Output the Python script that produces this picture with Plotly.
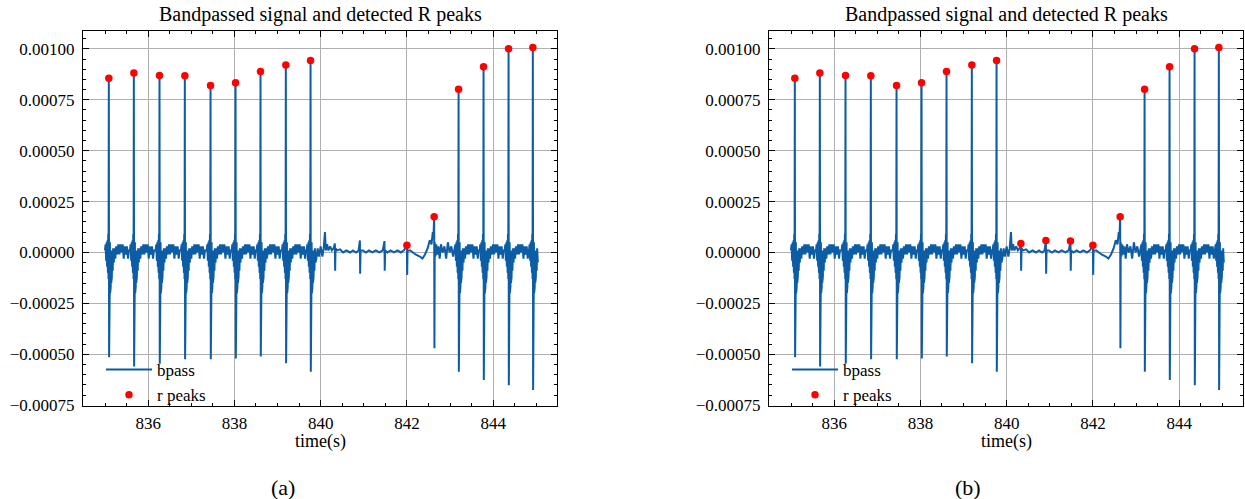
import plotly.graph_objects as go

# ---------------- data ----------------
# normal heart beats: R-peak time (s), R amplitude, S (trough) amplitude
beat_times = [835.089, 835.669, 836.264, 836.851, 837.447, 838.027, 838.606, 839.193, 839.766,
              843.198, 843.777, 844.357, 844.920]
beat_r = [0.000855, 0.000881, 0.000869, 0.000868, 0.000820, 0.000833, 0.000889, 0.000920, 0.000943,
          0.000802, 0.000912, 0.001000, 0.001007]
beat_s = [-0.000514, -0.000560, -0.000547, -0.000524, -0.000524, -0.000521, -0.000511, -0.000544, -0.000586,
          -0.000586, -0.000626, -0.000652, -0.000675]
s_offset = 0.006

# QRS ripple around every normal beat (offset from R peak, value)
blob_dt = [-0.090, -0.075, -0.062, -0.050, -0.040, -0.030, -0.022, -0.014, -0.007,
           0.013, 0.019, 0.025, 0.031, 0.037, 0.043, 0.049, 0.055, 0.062, 0.070, 0.080, 0.090, 0.100, 0.115]
blob_v = [0.00001, 0.00004, -0.00004, 0.00005, -0.00007, 0.00006, -0.00010, 0.00009, -0.00013,
          0.00007, -0.00022, 0.00005, -0.00020, 0.00003, -0.00017, 0.00001, -0.00015, -0.00001, -0.00012,
          0.00001, -0.00009, 0.00002, -0.00005]

# baseline wave between two regular beats (offset from R peak, value)
base_dt = [0.130, 0.150, 0.170, 0.195, 0.220, 0.245, 0.270, 0.295, 0.320, 0.345, 0.370, 0.395, 0.420, 0.445, 0.465]
base_v = [0.00002, -0.00003, 0.00003, -0.00001, 0.00004, -0.00001, 0.00004, 0.00000, 0.00004, -0.00003,
          0.00003, -0.00001, 0.00003, -0.00003, 0.00001]

# quiet stretch (840 s - 843 s)
pause_t = [839.90, 839.93, 839.96, 840.00, 840.04, 840.07, 840.10, 840.12, 840.15, 840.18, 840.22, 840.26,
           840.30, 840.330, 840.336, 840.345, 840.38, 840.45, 840.52, 840.60, 840.68, 840.75, 840.82, 840.88,
           840.910, 840.916, 840.925, 840.98, 841.05, 841.12, 841.20, 841.28, 841.36, 841.44,
           841.480, 841.486, 841.495, 841.55, 841.62, 841.70, 841.78, 841.86, 841.93,
           842.000, 842.006, 842.015, 842.08, 842.20, 842.30, 842.36, 842.42, 842.48, 842.53, 842.57,
           842.60, 842.615, 842.632, 842.638, 842.645, 842.66, 842.68, 842.70, 842.73, 842.76, 842.79,
           842.83, 842.87, 842.91, 842.95, 842.99, 843.03, 843.07, 843.10]
pause_v = [-0.00003, 0.00002, -0.00002, 0.00003, -0.00002, 0.00002, 0.00010, 0.00001, 0.00004, 0.00001,
           0.00003, 0.00001, 0.00002, 0.000044, -0.00009, 0.00002, 0.00001, 0.000015, 0.0, 0.00001, 0.0,
           0.00001, 0.0, 0.00001, 0.000059, -0.000105, 0.00001, 0.00001, 0.0, 0.00001, 0.0, 0.00001, 0.0,
           0.00001, 0.000056, -0.00009, 0.00001, 0.0, 0.00001, 0.0, 0.00001, 0.0, 0.00001,
           0.000035, -0.00011, 0.00001, 0.00001, -0.00001, -0.00002, -0.00003, -0.00001, 0.00002, 0.00006,
           0.00004, 0.00010, 0.00007, 0.000175, -0.00047, 0.00005, -0.00002, 0.00004, -0.00001, 0.00003,
           -0.00003, 0.00004, 0.0, 0.00003, -0.00003, 0.00005, 0.0, 0.00003, -0.00002, 0.00002]

# detected R peaks
peaks_a_t = [835.089, 835.669, 836.264, 836.851, 837.447, 838.027, 838.606, 839.193, 839.766,
             842.000, 842.632, 843.198, 843.777, 844.357, 844.920]
peaks_a_v = [0.000855, 0.000881, 0.000869, 0.000868, 0.000820, 0.000833, 0.000889, 0.000920, 0.000943,
             0.000035, 0.000175, 0.000802, 0.000912, 0.001000, 0.001007]
peaks_b_t = [835.089, 835.669, 836.264, 836.851, 837.447, 838.027, 838.606, 839.193, 839.766,
             840.330, 840.910, 841.480, 842.000, 842.632, 843.198, 843.777, 844.357, 844.920]
peaks_b_v = [0.000855, 0.000881, 0.000869, 0.000868, 0.000820, 0.000833, 0.000889, 0.000920, 0.000943,
             0.000044, 0.000059, 0.000056, 0.000035, 0.000175, 0.000802, 0.000912, 0.001000, 0.001007]

x_ticks = [836, 838, 840, 842, 844]
y_tick_vals = [-0.00075, -0.0005, -0.00025, 0.0, 0.00025, 0.0005, 0.00075, 0.001]
y_tick_text = ["\u22120.00075", "\u22120.00050", "\u22120.00025", "0.00000", "0.00025", "0.00050",
               "0.00075", "0.00100"]
title_text = "Bandpassed signal and detected R peaks"

# ---------------- assemble the bandpassed trace ----------------
pts = []
for i, (tr, ra, sa) in enumerate(zip(beat_times, beat_r, beat_s)):
    for dt, v in zip(blob_dt, blob_v):
        pts.append((tr + dt, v))
    pts.append((tr, ra))
    pts.append((tr + s_offset, sa))
    if i + 1 < len(beat_times) and beat_times[i + 1] - tr < 0.7:
        for dt, v in zip(base_dt, base_v):
            pts.append((tr + dt, v))
pts += list(zip(pause_t, pause_v))
pts.sort()
sig_t = [p[0] for p in pts]
sig_v = [p[1] for p in pts]

BLUE = "#0C5DA5"
FONT = "Liberation Serif"

fig = go.Figure()
for k, (pt, pv) in enumerate([(peaks_a_t, peaks_a_v), (peaks_b_t, peaks_b_v)]):
    xa = "x" if k == 0 else "x2"
    ya = "y" if k == 0 else "y2"
    lg = "legend" if k == 0 else "legend2"
    fig.add_trace(go.Scatter(x=sig_t, y=sig_v, mode="lines", name="bpass",
                             line=dict(color=BLUE, width=2), xaxis=xa, yaxis=ya, legend=lg))
    fig.add_trace(go.Scatter(x=pt, y=pv, mode="markers", name="r peaks",
                             marker=dict(color="red", size=7.5, line=dict(width=0)),
                             xaxis=xa, yaxis=ya, legend=lg))

dom_l = [83 / 1245, 557 / 1245]
dom_r = [769 / 1245, 1243 / 1245]
dom_y = [1 - 406 / 499, 1 - 30.7 / 499]

def xax(dom, anchor):
    return dict(domain=dom, anchor=anchor, range=[834.49, 845.48], tickvals=x_ticks, automargin=False,
                showline=True, linecolor="black", linewidth=1, mirror="allticks",
                ticks="inside", ticklen=6, tickwidth=1, tickcolor="black",
                minor=dict(dtick=0.5, tick0=834.5, ticks="inside", ticklen=3, tickcolor="black", showgrid=False),
                showgrid=True, gridcolor="#b0b0b0", gridwidth=1, zeroline=False,
                ticklabelstandoff=2,
                tickfont=dict(family=FONT, size=17, color="black"))

def yax(anchor):
    return dict(domain=dom_y, anchor=anchor, range=[-0.000754, 0.001089], automargin=False,
                tickvals=y_tick_vals, ticktext=y_tick_text,
                showline=True, linecolor="black", linewidth=1, mirror="allticks",
                ticks="inside", ticklen=6, tickwidth=1, tickcolor="black",
                minor=dict(dtick=0.00005, tick0=0, ticks="inside", ticklen=3, tickcolor="black", showgrid=False),
                showgrid=True, gridcolor="#b0b0b0", gridwidth=1, zeroline=False,
                ticklabelstandoff=4,
                tickfont=dict(family=FONT, size=17, color="black"))

leg_common = dict(bgcolor="rgba(0,0,0,0)", borderwidth=0, xanchor="left", yanchor="bottom",
                  font=dict(family=FONT, size=17, color="black"), tracegroupgap=0, itemwidth=46)

fig.update_layout(
    width=1245, height=499, autosize=False, margin=dict(l=0, r=0, t=0, b=0),
    paper_bgcolor="white", plot_bgcolor="white",
    xaxis=xax(dom_l, "y"), yaxis=yax("x"),
    xaxis2=xax(dom_r, "y2"), yaxis2=yax("x2"),
    legend=dict(x=101 / 1245, y=1 - 413 / 499, **leg_common),
    legend2=dict(x=787 / 1245, y=1 - 413 / 499, **leg_common),
    showlegend=True,
)

ann = []
for cx in [(dom_l[0] + dom_l[1]) / 2, (dom_r[0] + dom_r[1]) / 2]:
    ann.append(dict(text=title_text, x=cx, y=1 - 14 / 499, xref="paper", yref="paper",
                    showarrow=False, xanchor="center", yanchor="middle",
                    font=dict(family=FONT, size=20, color="black")))
    ann.append(dict(text="time(s)", x=cx, y=1 - 441 / 499, xref="paper", yref="paper",
                    showarrow=False, xanchor="center", yanchor="middle",
                    font=dict(family=FONT, size=18, color="black")))
for lab, cx in [("(a)", 283 / 1245), ("(b)", 968 / 1245)]:
    ann.append(dict(text=lab, x=cx, y=1 - 487 / 499, xref="paper", yref="paper",
                    showarrow=False, xanchor="center", yanchor="middle",
                    font=dict(family=FONT, size=22, color="black")))
fig.update_layout(annotations=ann)

fig.write_html("out.html")
